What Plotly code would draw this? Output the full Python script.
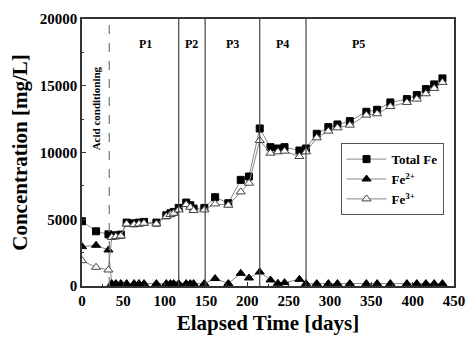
import plotly.graph_objects as go

days = [0, 17, 32, 36, 41, 47, 54, 63, 69, 75, 90, 102, 107, 111, 117, 126, 131, 135,
        148, 161, 177, 192, 202, 215, 228, 237, 245, 263, 271, 284, 298, 309, 324,
        344, 357, 373, 393, 405, 416, 426, 436]
total_fe = [4850, 4100, 3870, 3750, 3800, 3850, 4750, 4700, 4750, 4800, 4750, 5300, 5450,
            5550, 5850, 6250, 6050, 5800, 5850, 6650, 6200, 7950, 8200, 11800, 10400,
            10300, 10400, 10150, 10300, 11400, 11900, 12100, 12350, 13050, 13200, 13750,
            14000, 14300, 14750, 15100, 15550]
fe2 = [2950, 3050, 2700, 180, 180, 180, 180, 180, 180, 180, 180, 180, 180, 180, 180, 180,
       180, 180, 180, 560, 180, 950, 600, 1050, 450, 200, 250, 500, 180, 180, 180, 180,
       180, 180, 180, 180, 180, 180, 180, 180, 180]
fe3 = [1900, 1400, 1200, 3650, 3700, 3750, 4650, 4600, 4650, 4700, 4650, 5200, 5350, 5450,
       5700, 6100, 5900, 5650, 5700, 6150, 6050, 7050, 7700, 10900, 9950, 10050, 10100,
       9700, 10050, 11100, 11600, 11850, 12050, 12800, 12900, 13450, 13750, 14000, 14400,
       14800, 15250]

x_ticks = [0, 50, 100, 150, 200, 250, 300, 350, 400, 450]
y_ticks = [0, 5000, 10000, 15000, 20000]
phase_lines = [117, 149, 215, 271]
acid_line = 33
phase_labels = ["P1", "P2", "P3", "P4", "P5"]
phase_label_x = [77, 133, 182, 243, 334]

FONT = "Liberation Serif"

fig = go.Figure()
fig.add_trace(go.Scatter(x=days, y=total_fe, mode="lines+markers", name="<b>Total Fe</b>",
                         line=dict(color="#888888", width=1),
                         marker=dict(symbol="square", size=7, color="black",
                                     line=dict(color="black", width=1))))
fig.add_trace(go.Scatter(x=days, y=fe2, mode="lines+markers", name="<b>Fe<sup>2+</sup></b>",
                         line=dict(color="#888888", width=1),
                         marker=dict(symbol="triangle-up", size=8, color="black",
                                     line=dict(color="black", width=1))))
fig.add_trace(go.Scatter(x=days, y=fe3, mode="lines+markers", name="<b>Fe<sup>3+</sup></b>",
                         line=dict(color="#888888", width=1),
                         marker=dict(symbol="triangle-up", size=8, color="white",
                                     line=dict(color="#444444", width=1))))

fig.add_vline(x=acid_line, line=dict(color="#777777", width=1.2, dash="dash"))
for xv in phase_lines:
    fig.add_vline(x=xv, line=dict(color="#444444", width=1.2))

for lab, xv in zip(phase_labels, phase_label_x):
    fig.add_annotation(x=xv, y=18150, text="<b>" + lab + "</b>", showarrow=False,
                       font=dict(family=FONT, size=12, color="black"))
fig.add_annotation(x=18, y=13300, text="<b>Acid conditioning</b>", showarrow=False,
                   textangle=-90, font=dict(family=FONT, size=11, color="black"))

fig.update_layout(
    width=476, height=343,
    margin=dict(l=82, r=11, t=11, b=57),
    paper_bgcolor="white", plot_bgcolor="white",
    font=dict(family=FONT, color="black"),
    showlegend=True,
    legend=dict(x=0.695, y=0.535, xanchor="left", yanchor="top",
                bordercolor="#555555", borderwidth=1, bgcolor="white",
                font=dict(family=FONT, size=13, color="black"),
                tracegroupgap=0, itemwidth=40),
)
fig.update_xaxes(range=[0, 450], tickvals=x_ticks, ticktext=[f"<b>{v}</b>" for v in x_ticks],
                 showline=True, linecolor="#333333", linewidth=1.5, mirror=True,
                 ticks="inside", ticklen=4, tickcolor="#333333",
                 minor=dict(ticks="inside", ticklen=2, dtick=25, tickcolor="#333333"),
                 showgrid=False, zeroline=False,
                 tickfont=dict(family=FONT, size=15, color="black"),
                 title=dict(text="<b>Elapsed Time [days]</b>",
                            font=dict(family=FONT, size=21, color="black"), standoff=8))
fig.update_yaxes(range=[0, 20000], tickvals=y_ticks, ticktext=[f"<b>{v}</b>" for v in y_ticks],
                 showline=True, linecolor="#333333", linewidth=1.5, mirror=True,
                 ticks="inside", ticklen=4, tickcolor="#333333",
                 minor=dict(ticks="inside", ticklen=2, dtick=2500, tickcolor="#333333"),
                 showgrid=False, zeroline=False,
                 tickfont=dict(family=FONT, size=15, color="black"),
                 title=dict(text="<b>Concentration [mg/L]</b>",
                            font=dict(family=FONT, size=21, color="black"), standoff=6))

fig.write_html("out.html")
